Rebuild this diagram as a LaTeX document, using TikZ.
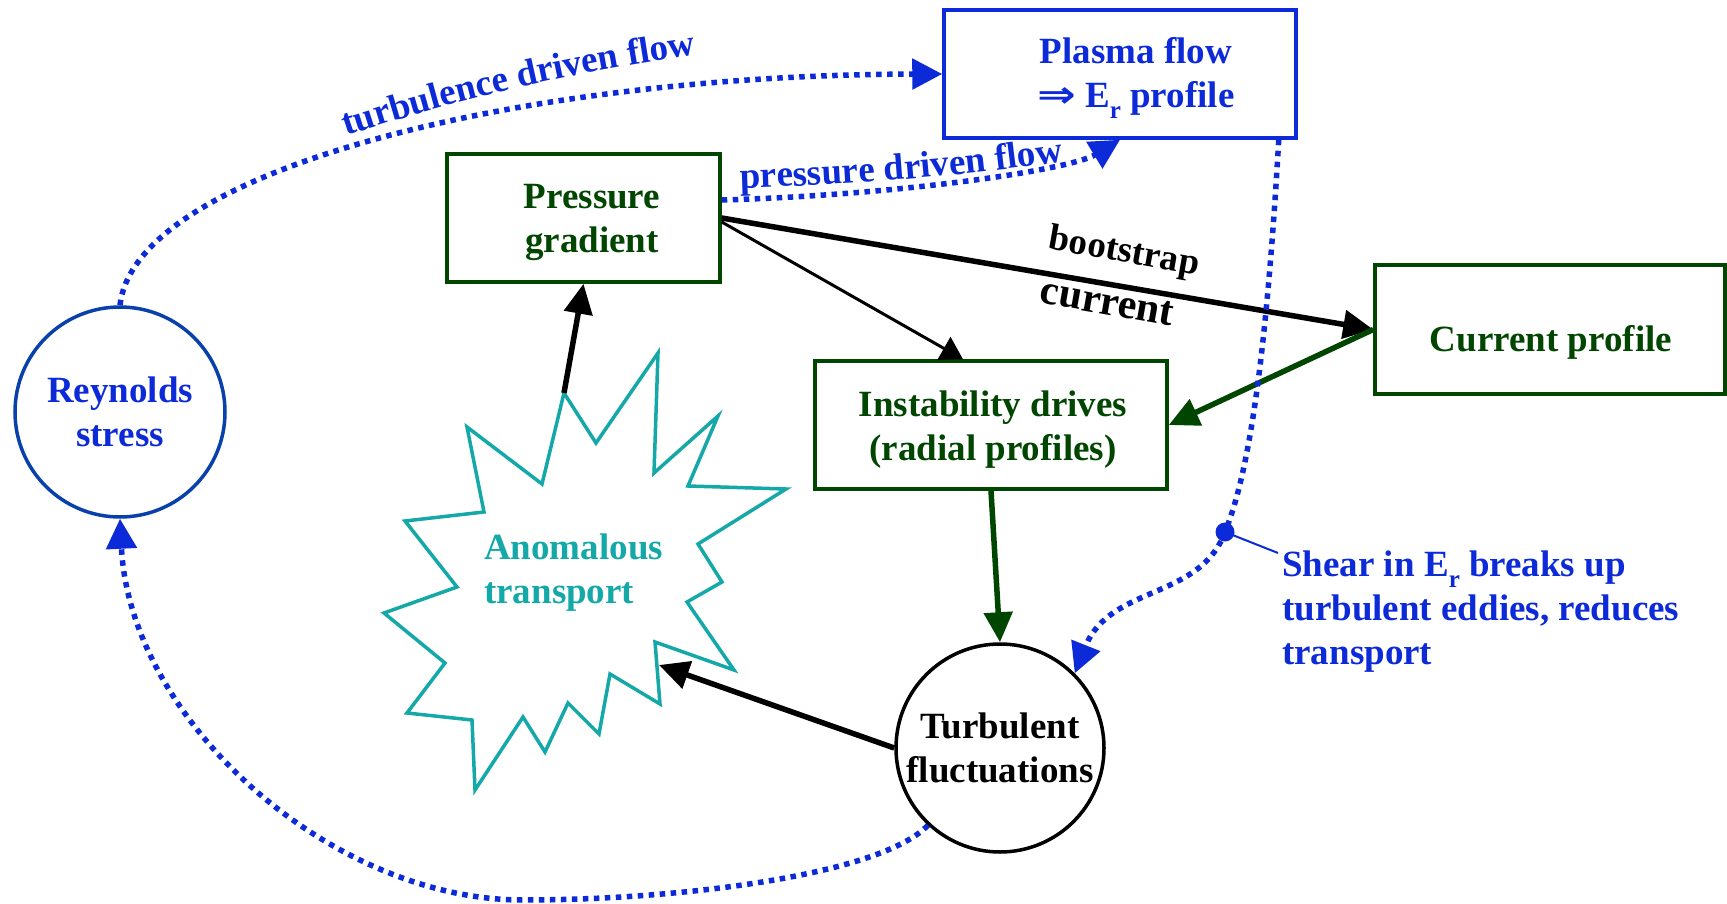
\documentclass[tikz,border=0pt]{standalone}
\usepackage{fontspec}
\setmainfont{Liberation Serif}
\newfontfamily\arrowfont{DejaVu Sans}
\usetikzlibrary{arrows.meta,decorations.text}

\definecolor{flowblue}{RGB}{12,42,215}
\definecolor{ringblue}{RGB}{8,64,172}
\definecolor{boxgreen}{RGB}{0,70,0}
\definecolor{startea}{RGB}{20,168,168}

% E with a lowered r, for the radial electric field
\newcommand\Esub{E\raisebox{-0.28em}{\fontsize{25}{25}\selectfont r}}

\tikzset{
  big/.style={font=\bfseries\fontsize{37}{44}\selectfont, align=center},
  gbox/.style={draw=boxgreen, line width=3.5pt, inner sep=0pt, minimum height=128pt},
  bbox/.style={draw=flowblue, line width=3.5pt, inner sep=0pt, minimum height=128pt},
  ring/.style={big, circle, line width=3.5pt, inner sep=0pt},
  heavy/.style={line width=5.5pt, -{Triangle[length=30pt,width=28pt]}},
  light/.style={line width=3pt, -{Triangle[length=22pt,width=26pt]}},
  dotflow/.style={flowblue, line width=5.5pt, dash pattern=on 5.5pt off 5.5pt, -{Triangle[length=30pt,width=30pt]}},
}

\begin{document}
\begin{tikzpicture}[x=1pt, y=-1pt]
\useasboundingbox (0,0) rectangle (1727,904);

% boxes and rings
\node[bbox, minimum width=352pt] (plasma) at (1120,74) {};
\node[big, text=flowblue] (plasmatext) at (1136,78)
  {Plasma flow\\\scalebox{1.25}[1]{\arrowfont ⇒}\hspace{9pt}\Esub{} profile};
\node[gbox, minimum width=273pt] (pressure) at (583.5,218) {};
\node[big, text=boxgreen] (pressuretext) at (592,222) {Pressure\\gradient};
\node[gbox, minimum width=350pt, minimum height=129pt] (current) at (1550,329.5) {};
\node[big, text=boxgreen] (currenttext) at (1551,342) {Current profile};
\node[gbox, minimum width=352pt] (instab) at (991,425) {};
\node[big, text=boxgreen] (instabtext) at (993,430) {Instability drives\\(radial profiles)};
\node[ring, draw=ringblue, text=flowblue, minimum size=210pt] (reyn) at (120,412) {Reynolds\\stress};
\node[ring, draw=black, text=black, minimum size=208pt] (turb) at (1000,748) {Turbulent\\fluctuations};

% the burst of anomalous transport
\draw[startea, line width=3.5pt, line join=miter]
  (564,393) -- (596,443) -- (658,353) -- (654,473) -- (718,416) -- (688,486)
  -- (786,489) -- (698,544) -- (722,582) -- (687,602) -- (734,670) -- (655,642)
  -- (660,704) -- (610,674) -- (599,734) -- (568,703) -- (545,752) -- (523,717)
  -- (475,790) -- (472,720) -- (407,713) -- (445,663) -- (384,613) -- (457,587)
  -- (405,521) -- (484,512) -- (467,427) -- (542,484) -- cycle;
\coordinate (startip) at (564,393);
\coordinate (starhit) at (659,665);
\node[big, text=startea, align=left, anchor=west, inner sep=0pt] (anom) at (484,573) {Anomalous\\transport};

% causal links
\draw[heavy] (startip) -- (pressure.south);
\draw[heavy] (pressure.east) -- (current.west);
\draw[light] ([yshift=-4pt]pressure.east) -- ([xshift=-28pt]instab.north);
\draw[heavy, boxgreen] (current.west) -- (instab.east);
\draw[heavy, boxgreen] (instab.south) -- (turb.north);
\draw[heavy] (turb.west) -- (starhit);

\node[font=\bfseries\fontsize{37}{44}\selectfont, rotate=-10] (boot) at (1124,253) {bootstrap};
\node[font=\bfseries\fontsize{42}{48}\selectfont, rotate=-10] (cur) at (1107,303) {current};

% flow feedback loops
\draw[dotflow] (reyn.north) .. controls (135,170) and (520,75) .. (plasma.west);
\path[decorate, decoration={text along path, text color=flowblue,
  text={|\bfseries\fontsize{37}{44}\selectfont|turbulence driven flow}}]
  (346,136) .. controls (442,104) and (572,70) .. (722,52);

\draw[dotflow] ([yshift=18pt]pressure.east) .. controls (900,195) and (1070,170) .. (plasma.south);
\path[decorate, decoration={text along path, text color=flowblue,
  text={|\bfseries\fontsize{37}{44}\selectfont|pressure driven flow}}]
  (740,188) .. controls (850,185) and (975,176) .. (1090,157);

\coordinate (shear) at (1225,532);
\draw[dotflow] ([xshift=-19pt]plasma.south east) .. controls (1265,380) and (1246,480) .. (shear)
  .. controls (1200,600) and (1110,585) .. (turb.45);
\fill[flowblue] (shear) circle[radius=9.5pt];
\coordinate (shearlabel) at (1278,553);
\draw[flowblue, line width=2pt] (shear) -- (shearlabel);
\node[big, text=flowblue, align=left, anchor=north west, inner sep=0pt] (sheartext) at (1282,551)
  {Shear in \Esub{} breaks up\\turbulent eddies, reduces\\transport};

\coordinate (lowest) at (523,900);
\draw[dotflow] (turb.227) .. controls (880,875) and (680,900) .. (lowest)
  .. controls (330,900) and (130,720) .. (reyn.south);
\end{tikzpicture}
\end{document}
